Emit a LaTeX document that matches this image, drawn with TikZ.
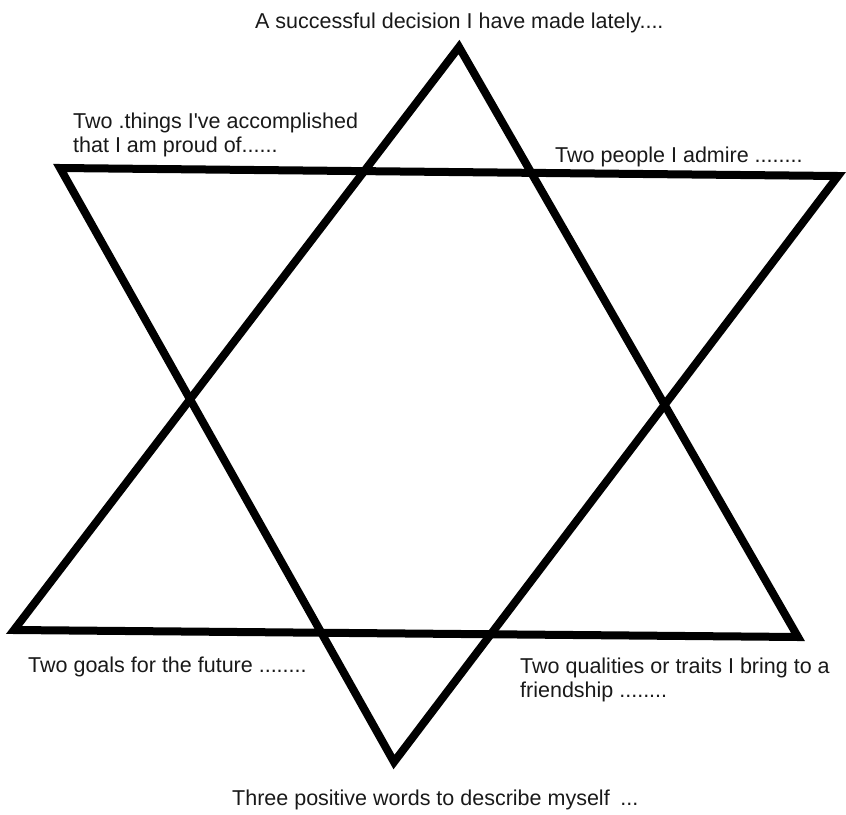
\documentclass[tikz,border=0pt]{standalone}
\usepackage{fontspec}
\newfontfamily\lblfont{Liberation Sans}
\begin{document}
\begin{tikzpicture}[x=1pt,y=-1pt,
  starline/.style={line width=8pt, line join=miter, black},
  lbl/.style={anchor=base west, inner sep=0pt, align=left, text=black!90,
    font=\lblfont\fontsize{21.5}{24}\selectfont}]
\useasboundingbox (0,0) rectangle (846,814);
% upward triangle
\coordinate (uA) at (459,47);
\coordinate (uB) at (14,630);
\coordinate (uC) at (798,637);
% downward triangle
\coordinate (dA) at (60,168);
\coordinate (dB) at (838,176);
\coordinate (dC) at (394,762);
\draw[starline] (uA) -- (uB) -- (uC) -- cycle;
\draw[starline] (dA) -- (dB) -- (dC) -- cycle;
\node[lbl] (top) at (255,28) {A successful decision I have made lately....};
\node[lbl] (acc) at (73,152) {Two .things I've accomplished\\that I am proud of......};
\node[lbl] (adm) at (555,162) {Two people I admire ........};
\node[lbl] (goal) at (28,672) {Two goals for the future ........};
\node[lbl] (qual) at (520,697) {Two qualities or traits I bring to a\\friendship ........};
\node[lbl] (three) at (232,805) {Three positive words to describe myself\enspace ...};
\end{tikzpicture}
\end{document}
